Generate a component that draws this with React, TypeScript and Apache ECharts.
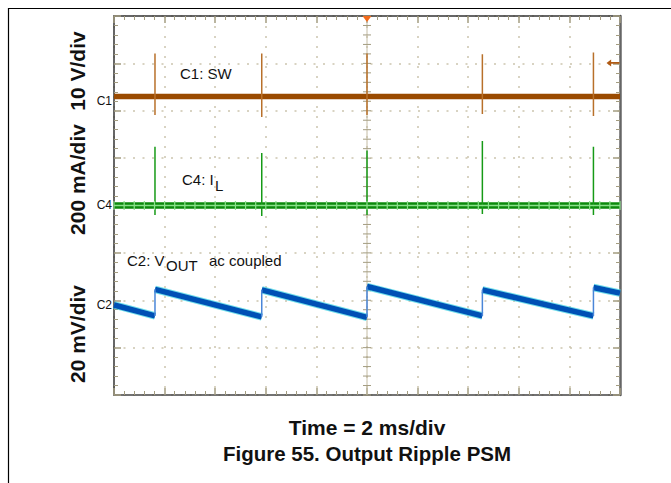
import React, { useEffect, useRef } from "react";
import * as echarts from "echarts";

// Time axis: 2 ms/div, 10 divisions
const timeMin = 0;
const timeMax = 20;
const timeStep = 2;
// Vertical: 8 divisions, values expressed in screen divisions
const divMin = -4;
const divMax = 4;

// switching events (ms)
const edgeTimes = [1.62, 5.84, 10.0, 14.56, 18.95];

// C1: SW (10 V/div)
const swLevel = 2.3;
const swSpikeHigh = [3.21, 3.21, 3.21, 3.19, 3.23];
const swSpikeLow = [1.91, 1.87, 1.91, 1.93, 1.89];

// C4: IL (200 mA/div)
const ilLevel = 0;
const ilSpikeHigh = [1.24, 1.11, 1.16, 1.36, 1.24];
const ilSpikeLow = [-0.2, -0.22, -0.2, -0.18, -0.2];

// C2: VOUT ac coupled (20 mV/div)
const voutStart = -2.1;
const voutBeforeEdge = [-2.33, -2.35, -2.36, -2.33, -2.33];
const voutAfterEdge = [-1.77, -1.78, -1.71, -1.78, -1.73];
const voutEnd = -1.85;

// trigger
const triggerTime = 10;
const triggerLevel = 3.01;

const FONT = '"Liberation Sans", Arial, Helvetica, sans-serif';

function buildSpikes(lows: number[], highs: number[]) {
  const out: any[] = [];
  edgeTimes.forEach((t, i) => {
    out.push([t, lows[i]], [t, highs[i]], [t, "-"]);
  });
  return out;
}

function buildVoutBand() {
  const out: any[] = [];
  let px = timeMin;
  let py = voutStart;
  edgeTimes.forEach((t, i) => {
    out.push([px, py], [t, voutBeforeEdge[i]], [t, "-"]);
    px = t;
    py = voutAfterEdge[i];
  });
  out.push([px, py], [timeMax, voutEnd]);
  return out;
}

function buildVoutJumps() {
  const out: any[] = [];
  edgeTimes.forEach((t, i) => {
    out.push([t, voutBeforeEdge[i]], [t, voutAfterEdge[i]], [t, "-"]);
  });
  return out;
}

const lineBase = {
  type: "line",
  showSymbol: false,
  symbol: "none",
  silent: true,
  connectNulls: false,
  animation: false,
};

function txt(text: string, x: number, y: number, font: string, align = "left", extra: any = {}) {
  return {
    type: "text",
    x,
    y,
    ...extra,
    style: {
      text,
      x: 0,
      y: 0,
      font,
      fill: "#111",
      align,
      textAlign: align,
      verticalAlign: "middle",
      textVerticalAlign: "middle",
    },
  };
}

export default function App() {
  const ref = useRef<HTMLDivElement>(null);
  useEffect(() => {
    if (!ref.current) return;
    const chart = echarts.init(ref.current, undefined, { renderer: "svg" });
    const xc = (timeMin + timeMax) / 2;
    const tickColor = "#A39C80";
    const dotColor = "#CCC5AE";

    const axisCommon = {
      type: "value",
      axisLabel: { show: false },
      axisTick: { show: true, inside: true, length: 7, lineStyle: { color: tickColor, width: 1.5 } },
      minorTick: { show: true, splitNumber: 5, length: 4, lineStyle: { color: tickColor, width: 1 } },
    };

    const option: any = {
      animation: false,
      grid: { left: 114, top: 16, width: 506, height: 379, show: false },
      xAxis: [
        {
          ...axisCommon,
          position: "bottom",
          min: timeMin,
          max: timeMax,
          interval: timeStep,
          axisLine: { show: true, onZero: false, lineStyle: { color: "#444", width: 1.5 } },
          splitLine: { show: true, lineStyle: { color: dotColor, width: 1.5, type: [2, 8] } },
        },
        {
          ...axisCommon,
          position: "top",
          min: timeMin,
          max: timeMax,
          interval: timeStep,
          axisLine: { show: true, onZero: false, lineStyle: { color: "#333", width: 1.5 } },
          splitLine: { show: false },
        },
      ],
      yAxis: [
        {
          ...axisCommon,
          position: "left",
          min: divMin,
          max: divMax,
          interval: 1,
          axisLine: { show: true, onZero: false, lineStyle: { color: "#333", width: 1.5 } },
          splitLine: { show: true, lineStyle: { color: dotColor, width: 1.5, type: [2, 7.5] } },
        },
        {
          ...axisCommon,
          position: "right",
          min: divMin,
          max: divMax,
          interval: 1,
          axisLine: { show: true, onZero: false, lineStyle: { color: "#666", width: 2.5 } },
          splitLine: { show: false },
        },
      ],
      series: [
        {
          type: "custom",
          silent: true,
          z: 1,
          data: [[xc, 0]],
          renderItem: (_p: any, api: any) => {
            const children: any[] = [];
            const a = api.coord([xc, divMin]);
            const b = api.coord([xc, divMax]);
            children.push({
              type: "line",
              shape: { x1: a[0], y1: a[1], x2: b[0], y2: b[1] },
              style: { stroke: "#C4BCA4", lineWidth: 1 },
            });
            for (let k = 0; k <= 40; k++) {
              const p = api.coord([xc, divMin + k * 0.2]);
              children.push({
                type: "line",
                shape: { x1: p[0] - 4, y1: p[1], x2: p[0] + 4, y2: p[1] },
                style: { stroke: tickColor, lineWidth: 1 },
              });
            }
            return { type: "group", children };
          },
        },
        {
          ...lineBase,
          z: 3,
          data: [[timeMin, swLevel], [timeMax, swLevel]],
          lineStyle: { color: "#9A4A00", width: 5.5, cap: "butt" },
          markPoint: {
            silent: true,
            label: { show: false },
            data: [
              {
                coord: [triggerTime, divMax],
                symbol: "triangle",
                symbolSize: [9, 6],
                symbolRotate: 180,
                symbolOffset: [0, 3],
                itemStyle: { color: "#F26A1B" },
              },
              {
                coord: [timeMax, triggerLevel],
                symbol: "path://M0,5 L5,0.5 L5,3.8 L14,3.8 L14,6.2 L5,6.2 L5,9.5 Z",
                symbolSize: [13, 7],
                symbolOffset: [-7, 0],
                itemStyle: { color: "#B05A14" },
              },
            ],
          },
        },
        {
          ...lineBase,
          z: 4,
          data: buildSpikes(swSpikeLow, swSpikeHigh),
          lineStyle: { color: "#B8702A", width: 1.5, cap: "butt" },
        },
        {
          ...lineBase,
          z: 3,
          data: [[timeMin, ilLevel], [timeMax, ilLevel]],
          lineStyle: { color: "#0B8A0B", width: 6.5, cap: "butt" },
        },
        {
          ...lineBase,
          z: 4,
          data: buildSpikes(ilSpikeLow, ilSpikeHigh),
          lineStyle: { color: "#169A16", width: 1.5, cap: "butt" },
        },
        {
          type: "custom",
          silent: true,
          z: 5,
          data: [[xc, ilLevel]],
          renderItem: (_p: any, api: any) => {
            const children: any[] = [];
            const a = api.coord([timeMin, ilLevel]);
            const b = api.coord([timeMax, ilLevel]);
            children.push({
              type: "line",
              shape: { x1: a[0], y1: a[1], x2: b[0], y2: b[1] },
              style: { stroke: "#8BE08B", lineWidth: 1.5 },
            });
            for (let k = 0; k <= 50; k++) {
              const p = api.coord([timeMin + k * 0.4, ilLevel]);
              children.push({
                type: "line",
                shape: { x1: p[0], y1: p[1] - 4.5, x2: p[0], y2: p[1] + 4.5 },
                style: { stroke: "#8BE08B", lineWidth: 1.2 },
              });
            }
            return { type: "group", children };
          },
        },
        {
          ...lineBase,
          z: 3,
          data: buildVoutBand(),
          lineStyle: { color: "#3FD3E3", width: 7.5, opacity: 0.75, cap: "butt" },
        },
        {
          ...lineBase,
          z: 4,
          data: buildVoutBand(),
          lineStyle: { color: "#0050B5", width: 5.5, cap: "butt" },
        },
        {
          ...lineBase,
          z: 4,
          data: buildVoutJumps(),
          lineStyle: { color: "#4A86D8", width: 1.5, cap: "butt" },
        },
      ],
      graphic: [
        { type: "line", shape: { x1: 8, y1: 8.5, x2: 671, y2: 8.5 }, style: { stroke: "#000", lineWidth: 1.2 } },
        { type: "line", shape: { x1: 8.5, y1: 8, x2: 8.5, y2: 483 }, style: { stroke: "#000", lineWidth: 1.2 } },
        txt("10 V/div", 77, 71, `bold 21px ${FONT}`, "center", { rotation: Math.PI / 2 }),
        txt("200 mA/div", 77, 179.5, `bold 21px ${FONT}`, "center", { rotation: Math.PI / 2 }),
        txt("20 mV/div", 77, 334, `bold 21px ${FONT}`, "center", { rotation: Math.PI / 2 }),
        txt("C1", 112, 101, `12px ${FONT}`, "right"),
        txt("C4", 112, 205, `12px ${FONT}`, "right"),
        txt("C2", 112, 305, `12px ${FONT}`, "right"),
        txt("C1: SW", 180, 73.5, `15px ${FONT}`),
        txt("C4: I", 182, 179.5, `15px ${FONT}`),
        txt("L", 215, 185.5, `15px ${FONT}`),
        txt("C2: V", 127, 260.5, `15px ${FONT}`),
        txt("OUT", 166, 265, `15px ${FONT}`),
        txt("ac coupled", 209, 260.5, `15px ${FONT}`),
        txt("Time = 2 ms/div", 367, 427, `bold 21px ${FONT}`, "center"),
        txt("Figure 55. Output Ripple PSM", 367, 453, `bold 20.5px ${FONT}`, "center"),
      ],
    };
    chart.setOption(option);
    return () => chart.dispose();
  }, []);
  return (
    <div
      ref={ref}
      style={{ position: "fixed", left: 0, top: 0, width: 671, height: 483, background: "#fff" }}
    />
  );
}
